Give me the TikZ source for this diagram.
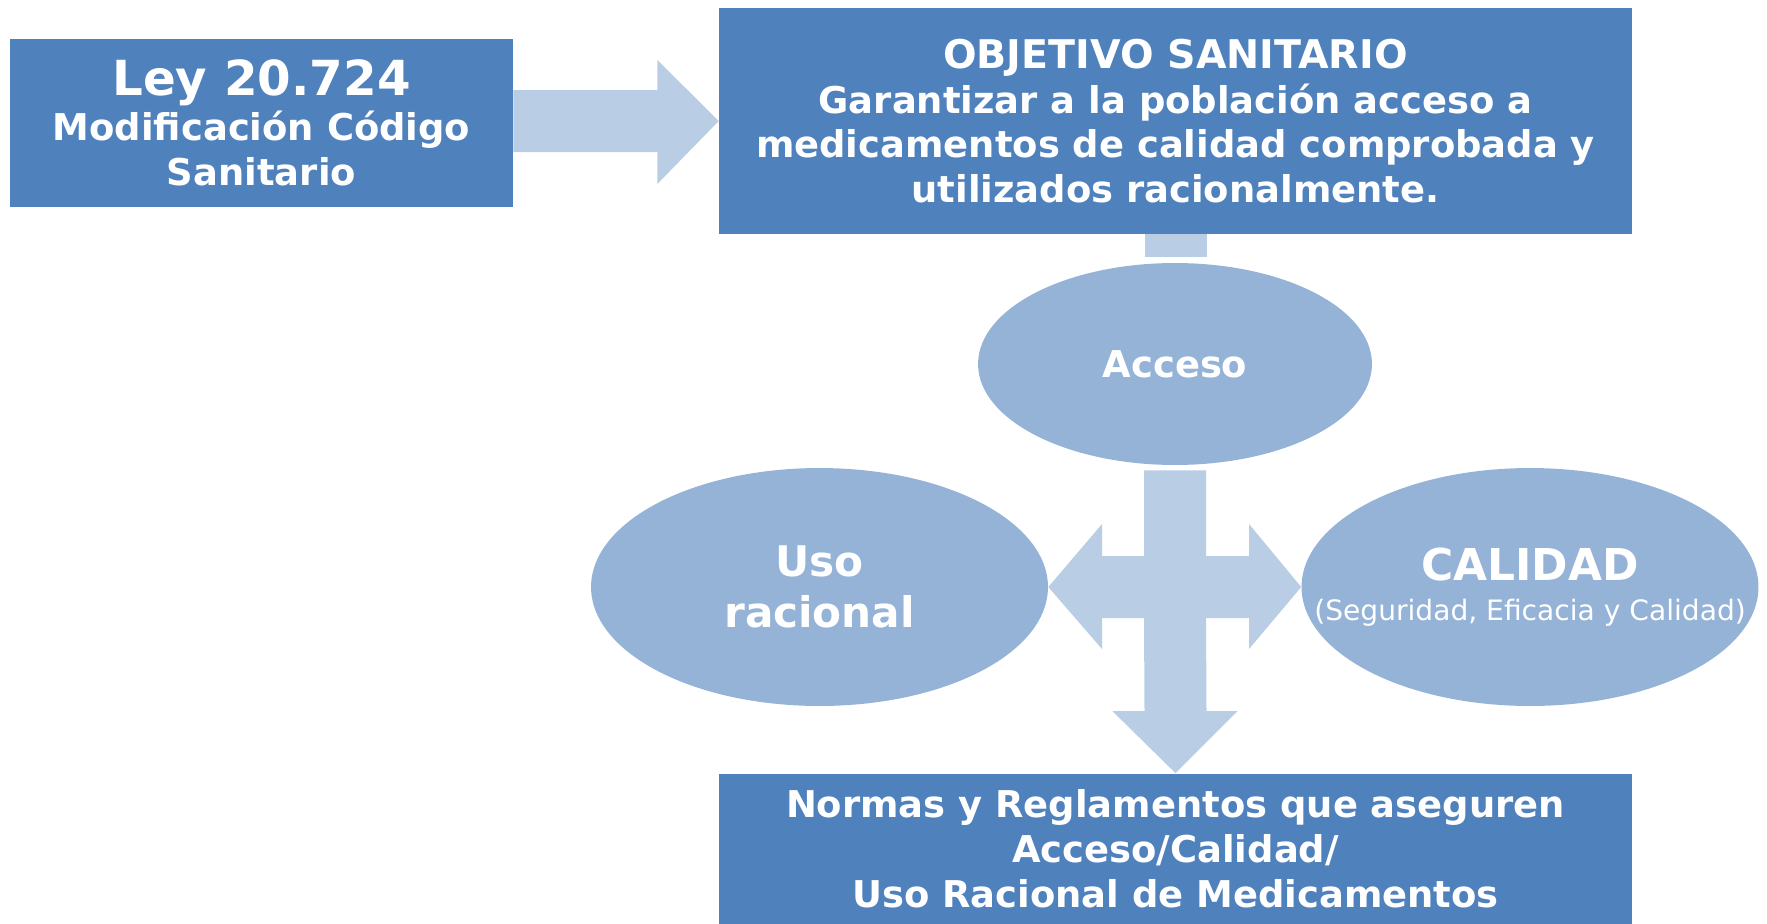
\documentclass[tikz,border=0pt]{standalone}
\usepackage{fontspec}
\setmainfont{DejaVu Sans}
\usetikzlibrary{calc,shapes.geometric}
\definecolor{boxblue}{RGB}{79,129,189}
\definecolor{ovalblue}{RGB}{149,179,215}
\definecolor{arrowblue}{RGB}{185,205,229}
\tikzset{
  bluebox/.style={fill=boxblue, inner sep=0pt, align=center, text=white,
                  font=\bfseries\fontsize{21}{25.5}\selectfont},
  oval/.style={ellipse, fill=ovalblue, inner sep=0pt, align=center,
               text=white, font=\bfseries\fontsize{21}{25.5}\selectfont},
  broad/.style={fill=arrowblue},
}

\begin{document}
\begin{tikzpicture}[x=0.02cm,y=-0.02cm]
  \path[use as bounding box] (0,0) rectangle (1767,923);

  % boxes
  \node[bluebox, minimum width=10.06cm, minimum height=3.36cm] (ley) at (261.5,123)
    {{\fontsize{27.5}{33}\selectfont Ley 20.724}\\Modificación Código\\Sanitario};
  \node[bluebox, minimum width=18.26cm, minimum height=4.52cm] (obj) at (1175.5,121)
    {{\fontsize{22.5}{25.5}\selectfont OBJETIVO SANITARIO}\\Garantizar a la población acceso a\\
     medicamentos de calidad comprobada y\\utilizados racionalmente.};
  \node[bluebox, minimum width=18.26cm, minimum height=3.02cm] (norm) at (1175.5,849)
    {Normas y Reglamentos que aseguren\\Acceso/Calidad/\\Uso Racional de Medicamentos};

  % ovals
  \node[oval, minimum width=7.88cm, minimum height=4.04cm] (acceso) at (1175,364) {Acceso};
  \node[oval, minimum width=9.14cm, minimum height=4.76cm,
        font=\bfseries\fontsize{24}{29}\selectfont] (uso) at (819.5,587) {Uso\\racional};
  \node[oval, minimum width=9.14cm, minimum height=4.76cm, inner xsep=-40pt] (cal) at (1530,587)
    {{\fontsize{25}{28}\selectfont CALIDAD}\\[-3pt]
     {\normalfont\fontsize{16}{19}\selectfont(Seguridad, Eficacia y Calidad)}};

  % arrow ley -> objetivo
  \fill[broad] ($(ley.east)+(0,-33)$) -- ++(144,0) -- ++(0,-30) -- (obj.west)
    -- ($(ley.east)+(144,61)$) -- ++(0,-32) -- ($(ley.east)+(0,29)$) -- cycle;

  % stub objetivo -> acceso
  \fill[broad] ($(obj.south)+(-31,0)$) rectangle ($(obj.south)+(31,23)$);

  % cross below acceso
  \coordinate (hub) at (acceso.south |- uso.east);
  \fill[broad] ($(acceso.south)+(-31,5)$) -- ($(acceso.south)+(31,5)$)
    -- ($(hub)+(31,-31)$) -- ($(hub)+(74,-31)$) -- ($(hub)+(74,-63)$)
    -- (cal.west) -- ($(hub)+(74,62)$) -- ($(hub)+(74,31)$) -- ($(hub)+(31,31)$)
    -- ($(norm.north)+(31,-62)$) -- ($(norm.north)+(62,-62)$) -- (norm.north)
    -- ($(norm.north)+(-63,-62)$) -- ($(norm.north)+(-31,-62)$)
    -- ($(hub)+(-31,31)$) -- ($(hub)+(-73,31)$) -- ($(hub)+(-73,62)$)
    -- (uso.east) -- ($(hub)+(-73,-63)$) -- ($(hub)+(-73,-31)$)
    -- ($(hub)+(-31,-31)$) -- cycle;
\end{tikzpicture}
\end{document}
